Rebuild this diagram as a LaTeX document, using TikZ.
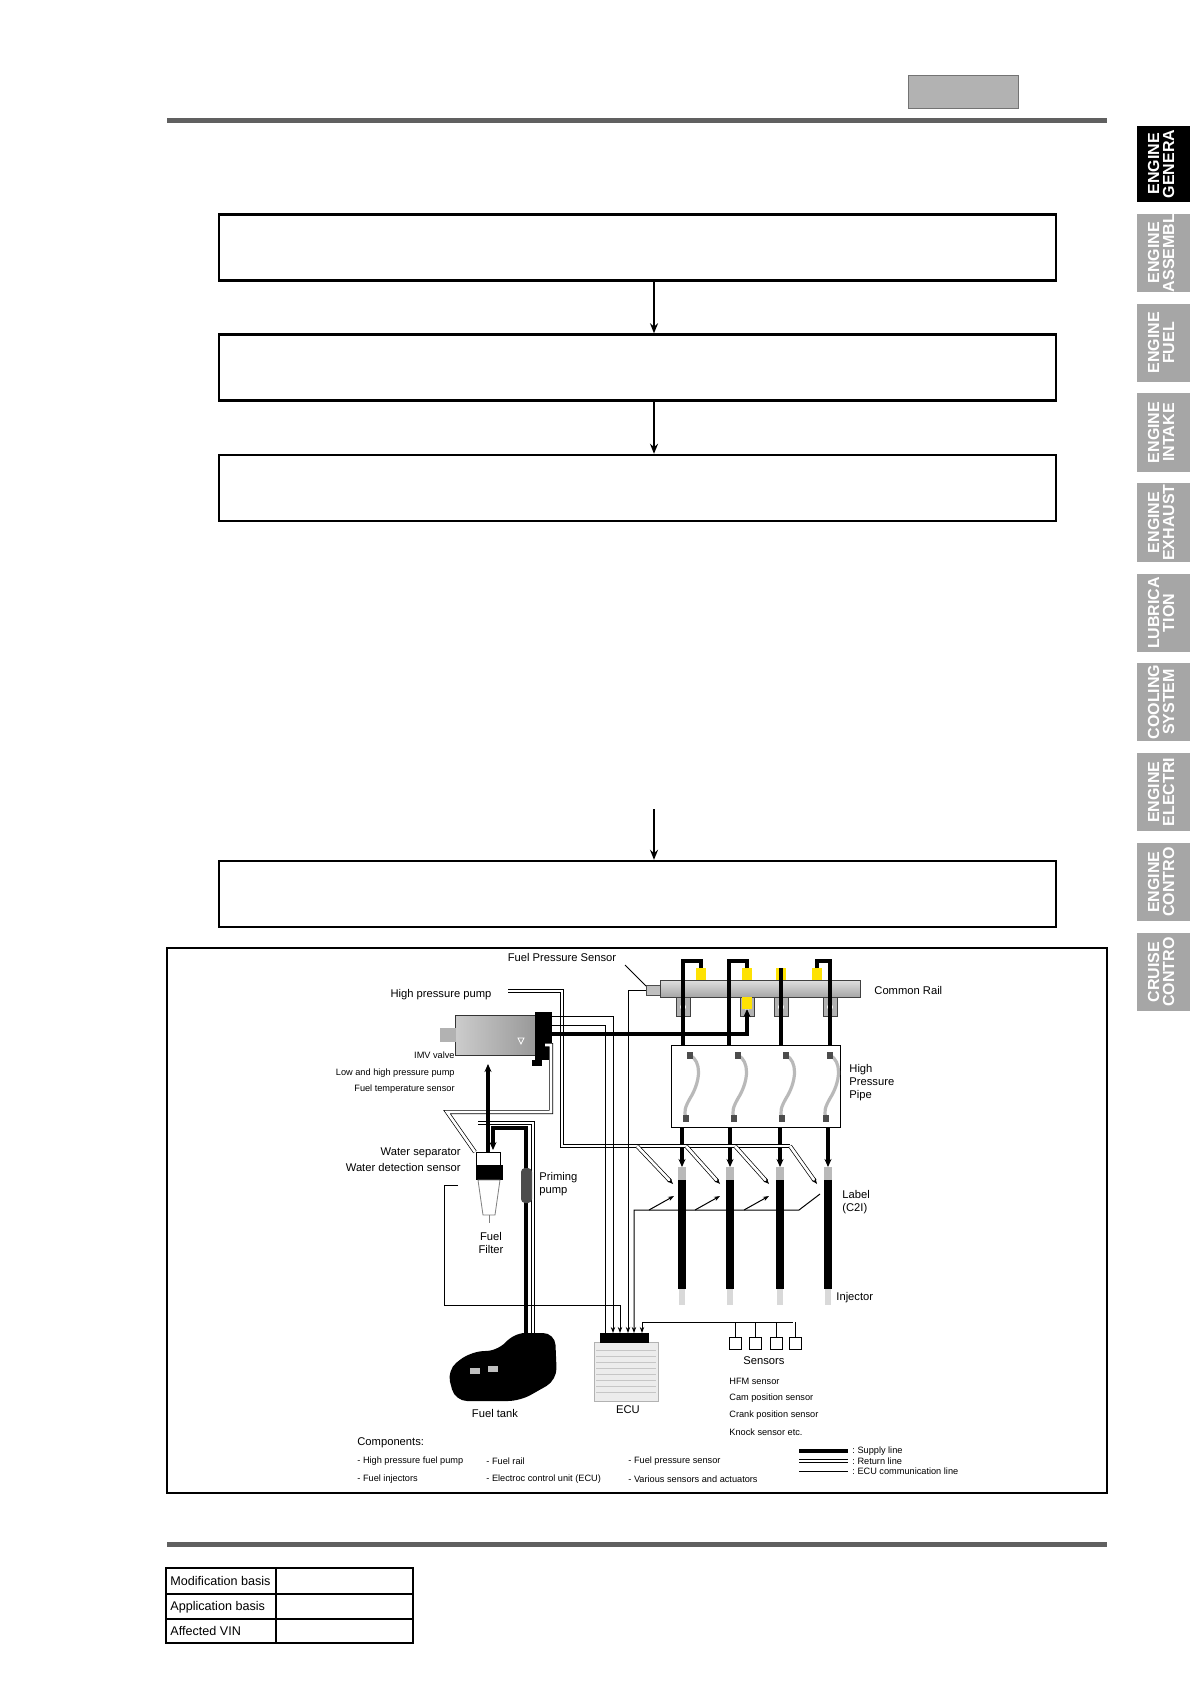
\documentclass[tikz,border=0pt]{standalone}
\usepackage{fontspec}
\setmainfont{Liberation Sans}
\usetikzlibrary{arrows.meta}
\tikzset{
 flowbox/.style={draw,line width=1.2pt},
 flowarr/.style={-{Stealth[length=5pt,width=4pt]},line width=0.8pt},
 tab/.style={rotate=90,text=white,font=\fontsize{8}{7.5}\selectfont\bfseries,align=center,inner sep=0pt},
 supply/.style={line width=1.6pt},
 ret/.style={draw=black,line width=0.35pt,double=white,double distance=1.3pt},
 comm/.style={line width=0.5pt},
 lbl/.style={font=\fontsize{5.6}{6.6}\selectfont,inner sep=0pt},
 slbl/.style={font=\fontsize{4.6}{5.5}\selectfont,inner sep=0pt},
 tbl/.style={font=\fontsize{6.3}{7}\selectfont,anchor=west,inner sep=0pt},
 carr/.style={comm,-{Stealth[length=3pt,width=2.2pt]}},
 sarr/.style={supply,-{Stealth[length=4pt,width=3.5pt]}},
}
\begin{document}
\begin{tikzpicture}[x=0.5pt,y=-0.5pt]
\useasboundingbox (0,0) rectangle (1190,1684);
% header
\fill[gray!60,draw=gray!90!black] (908,75) rectangle (1018,108);
\fill[gray!75!black] (167,118) rectangle (1107,123);
\fill[gray!75!black] (167,1542) rectangle (1107,1547);
% tabs
\foreach \ya/\yb/\t/\c in {126/202/{ENGINE\\GENERA}/black,214/292/{ENGINE\\ASSEMBL}/gray!70,304/382/{ENGINE\\FUEL}/gray!70,393/472/{ENGINE\\INTAKE}/gray!70,483/562/{ENGINE\\EXHAUST}/gray!70,574/652/{LUBRICA\\TION}/gray!70,663/741/{COOLING\\SYSTEM}/gray!70,753/831/{ENGINE\\ELECTRI}/gray!70,843/921/{ENGINE\\CONTRO}/gray!70,933/1011/{CRUISE\\CONTRO}/gray!70}{
 \fill[\c] (1137,\ya) rectangle (1190,\yb);
 \node[tab] at (1161,{(\ya+\yb)/2}) {\t};
}
% flow boxes
\node[flowbox,minimum width=418.5pt,minimum height=33pt] (b1) at (637.5,247.5) {};
\node[flowbox,minimum width=418.5pt,minimum height=33pt] (b2) at (637.5,367.5) {};
\node[flowbox,minimum width=418.5pt,minimum height=33pt] (b3) at (637.5,488) {};
\node[flowbox,minimum width=418.5pt,minimum height=33pt] (b4) at (637.5,894) {};
\coordinate (a0) at (654,809);
\draw[flowarr] (b1.south -| 654,0) -- (b2.north -| 654,0);
\draw[flowarr] (b2.south -| 654,0) -- (b3.north -| 654,0);
\draw[flowarr] (a0) -- (b4.north -| 654,0);
% diagram frame
\draw[line width=1pt] (167,948) rectangle (1107,1493);
% ---- common rail
\node[lbl] (fps) at (562,957) {Fuel Pressure Sensor};
\draw[comm] (625,965) -- (646,986);
\fill[gray!50,draw=gray!60!black] (646,985) rectangle (660,995);
\shade[top color=gray!25,bottom color=gray!70,draw=gray!50!black] (660,980) rectangle (860,997);
\foreach \x in {683,747,781,830}{\fill[gray!60,draw=gray!50!black] (\x-7,997) rectangle (\x+7,1016); \fill[white] (\x,1007) circle (3);}
\foreach \x in {701,747,781,817}{\fill[yellow!85!orange] (\x-5,968) rectangle (\x+5,980);}
\fill[yellow!85!orange] (742,997) rectangle (752,1009);
\node[lbl,anchor=west] at (874,990) {Common Rail};
% pipe box
\node[draw,minimum width=84.5pt,minimum height=41pt,inner sep=0pt] (pb) at (755.5,1086) {};
\foreach \x in {690,738,786,830}{
 \draw[gray!55,line width=1.6pt] (\x,1055) .. controls (\x+12,1062) and (\x+10,1080) .. (\x+2,1095) .. controls (\x-6,1108) and (\x-6,1112) .. (\x-4,1118);
 \fill[gray!60!black] (\x-3,1052) rectangle (\x+3,1059);
 \fill[gray!60!black] (\x-7,1115) rectangle (\x-1,1122);
}
\node[lbl,anchor=north west,align=left] at (849,1064) {High\\Pressure\\Pipe};
% supply rail-pipe
\draw[supply] (683,1045) -- (683,961) -- (701,961) -- (701,968);
\draw[supply] (729,1045) -- (729,961) -- (747,961) -- (747,968);
\draw[supply] (781,1045) -- (781,968);
\draw[supply] (830,1045) -- (830,961) -- (817,961) -- (817,968);
% injectors
\foreach \x [count=\i] in {682,730,780,828}{
 \fill[gray!30] (\x-3,1289) rectangle (\x+3,1305);
 \fill[black] (\x-4,1169) rectangle (\x+4,1289);
 \fill[gray!55] (\x-4,1167) rectangle (\x+4,1180);
 \coordinate (inj\i) at (\x,1167);
}
\foreach \x [count=\i] in {682,730,780,828}{\draw[sarr] (\x,1127) -- (inj\i);}
\node[lbl,anchor=north west,align=left] at (842,1190) {Label\\(C2I)};
\node[lbl,anchor=west] at (836,1298) {Injector};
% ---- pump
\node[lbl] at (441,995) {High pressure pump};
\shade[left color=gray!40,right color=gray!80,draw=gray!40!black] (455,1015) rectangle (535,1055);
\fill[gray!60] (440,1028) rectangle (456,1042);
\fill[black] (535,1012) rectangle (552,1060);
\draw[white] (518,1038) -- (524,1038) -- (521,1044) -- cycle;
\fill[black] (532,1060) rectangle (542,1066);
\node[slbl,anchor=east] at (455,1055) {IMV valve};
\node[slbl,anchor=east] at (455,1073) {Low and high pressure pump};
\node[slbl,anchor=east] at (455,1089) {Fuel temperature sensor};
% return lines
\draw[ret] (508,991) -- (562,991) -- (562,1146) -- (790,1146);
\foreach \a/\b in {637/673,686/720,735/769,790/817}{\draw[ret,-{Stealth[length=3pt]}] (\a,1146) -- (\b,1184);}
\draw[ret] (545,1045) -- (551,1045) -- (551,1112) -- (447,1112) -- (475,1152);
\draw[ret] (478,1123) -- (533,1123) -- (533,1333);
% supply pump-rail
\draw[sarr] (545,1034) -- (747,1034) -- (747,1009);
\draw[sarr] (488,1152) -- (488,1064);
\draw[sarr] (526,1344) -- (526,1128) -- (493,1128) -- (493,1150);
% filter
\fill[white,draw=black] (476,1152) rectangle (500,1175);
\fill[black] (476,1165) rectangle (503,1180);
\fill[white,draw=gray] (478,1180) -- (500,1180) -- (495,1215) -- (483,1215) -- cycle;
\draw[gray] (489,1215) -- (489,1223);
\node[lbl,anchor=east] at (461,1153) {Water separator};
\node[lbl,anchor=east] at (461,1167) {Water detection sensor};
\node[lbl,align=center] at (491,1243) {Fuel\\Filter};
\fill[gray!60!black,rounded corners=2pt] (521,1168) rectangle (532,1203);
\node[lbl,anchor=north west,align=left] at (539,1172) {Priming\\pump};
% tank
\fill[black,rounded corners=6pt] (447,1370) -- (470,1352) -- (500,1350) -- (513,1333) -- (555,1333) -- (557,1380) -- (520,1401) -- (455,1401) -- cycle;
\fill[gray!50] (470,1368) rectangle (480,1374);\fill[gray!50] (488,1366) rectangle (498,1372);
\node[lbl] at (495,1413) {Fuel tank};
% ECU
\fill[gray!15,draw=gray!60] (594,1342) rectangle (658,1401);
\foreach \y in {1350,1356,...,1396}{\draw[gray!45] (596,\y) -- (656,\y);}
\fill[black] (600,1333) rectangle (649,1343);
\node[lbl] at (628,1410) {ECU};
% comm lines
\draw[comm,-{Stealth[length=3pt,width=2.5pt]}] (605,1333) -- (605,1025) -- (545,1025);
\draw[carr] (545,1016) -- (613,1016) -- (613,1333);
\draw[carr] (458,1185) -- (444,1185) -- (444,1305) -- (620,1305) -- (620,1333);
\draw[carr] (646,990) -- (628,990) -- (628,1333);
\draw[carr] (820,1194) -- (799,1210) -- (634,1210) -- (634,1333);
\foreach \a/\b in {649/674,695/720,744/769}{\draw[carr] (\a,1210) -- (\b,1196);}
\draw[carr] (793,1322) -- (642,1322) -- (642,1333);
% sensors
\foreach \x in {735,755,776,795}{\draw[comm] (\x,1322) -- (\x,1337); \draw[line width=0.5pt] (\x-6,1337) rectangle (\x+6,1349);}
\node[lbl] at (764,1361) {Sensors};
\node[slbl,anchor=west] at (729,1381) {HFM sensor};
\node[slbl,anchor=west] at (729,1398) {Cam position sensor};
\node[slbl,anchor=west] at (729,1415) {Crank position sensor};
\node[slbl,anchor=west] at (729,1432) {Knock sensor etc.};
% components
\node[lbl,anchor=west] at (357,1443) {Components:};
\node[slbl,anchor=west] at (357,1461) {- High pressure fuel pump};
\node[slbl,anchor=west] at (486,1461) {- Fuel rail};
\node[slbl,anchor=west] at (628,1461) {- Fuel pressure sensor};
\node[slbl,anchor=west] at (357,1479) {- Fuel injectors};
\node[slbl,anchor=west] at (486,1479) {- Electroc control unit (ECU)};
\node[slbl,anchor=west] at (628,1479) {- Various sensors and actuators};
\draw[supply] (799,1451) -- (848,1451);
\draw[ret] (799,1461) -- (848,1461);
\draw[comm] (799,1471) -- (848,1471);
\node[slbl,anchor=west] at (852,1451) {:\ Supply line};
\node[slbl,anchor=west] at (852,1461) {:\ Return line};
\node[slbl,anchor=west] at (852,1471) {:\ ECU communication line};
% table
\draw[line width=0.6pt] (166,1568) rectangle (413,1643);
\draw[line width=0.6pt] (166,1594) -- (413,1594) (166,1619) -- (413,1619) (276,1568) -- (276,1643);
\node[tbl] at (170,1581) {Modification basis};
\node[tbl] at (170,1607) {Application basis};
\node[tbl] at (170,1631) {Affected VIN};
\end{tikzpicture}
\end{document}
